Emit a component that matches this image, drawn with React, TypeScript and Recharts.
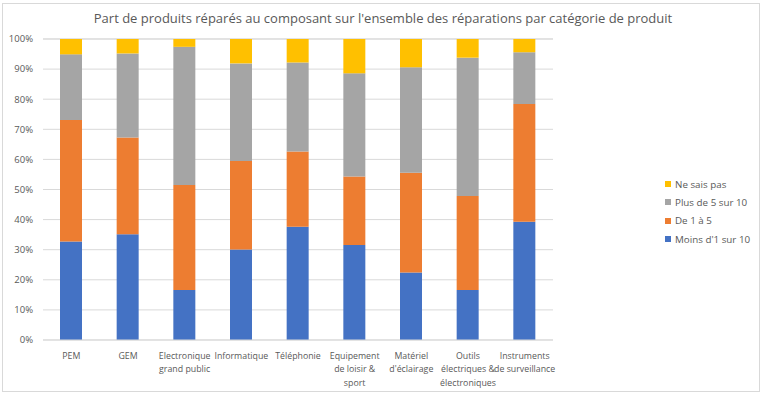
import React from "react";
import { BarChart, Bar, XAxis, YAxis, CartesianGrid, Legend } from "recharts";

const categories = [
  "PEM",
  "GEM",
  "Electronique\ngrand public",
  "Informatique",
  "Téléphonie",
  "Equipement\nde loisir &\nsport",
  "Matériel\nd'éclairage",
  "Outils\nélectriques &\nélectroniques",
  "Instruments\nde surveillance",
];
const moins = [32.7, 35.1, 16.6, 30.1, 37.6, 31.6, 22.4, 16.6, 39.3];
const de1a5 = [40.4, 32.2, 34.9, 29.4, 25.0, 22.7, 33.2, 31.2, 39.1];
const plus5 = [21.8, 27.9, 45.9, 32.4, 29.6, 34.3, 35.0, 46.0, 17.2];
const nsp = [5.1, 4.8, 2.6, 8.1, 7.8, 11.4, 9.4, 6.2, 4.4];
const yTicks = [0, 10, 20, 30, 40, 50, 60, 70, 80, 90, 100];

const series = [
  { key: "moins", name: "Moins d'1 sur 10", color: "#4472C4" },
  { key: "de1a5", name: "De 1 à 5", color: "#ED7D31" },
  { key: "plus5", name: "Plus de 5 sur 10", color: "#A5A5A5" },
  { key: "nsp", name: "Ne sais pas", color: "#FFC000" },
];

const data = categories.map((c, i) => ({
  cat: c,
  moins: moins[i],
  de1a5: de1a5[i],
  plus5: plus5[i],
  nsp: nsp[i],
}));

const FONT = "'Open Sans', sans-serif";
const TEXT = "#595959";

const XTick = (props: any) => {
  const { x, y, payload } = props;
  const lines = String(payload.value).split("\n");
  return (
    <text x={x} y={y} textAnchor="middle" fill={TEXT} fontSize={8.8} fontFamily={FONT}>
      {lines.map((l: string, i: number) => (
        <tspan key={i} x={x} dy={i === 0 ? 11 : 13.3}>
          {l}
        </tspan>
      ))}
    </text>
  );
};

const LegendContent = () => (
  <div style={{ fontFamily: FONT, fontSize: 9.8, color: TEXT }}>
    {[...series].reverse().map((s) => (
      <div key={s.key} style={{ display: "flex", alignItems: "center", height: 18.3 }}>
        <span style={{ width: 6, height: 6, background: s.color, marginRight: 4, display: "inline-block" }} />
        <span>{s.name}</span>
      </div>
    ))}
  </div>
);

export default function App() {
  return (
    <div style={{ position: "absolute", left: 0, top: 0, width: 766, height: 398, background: "#fff" }}>
      <div
        style={{
          position: "absolute",
          left: 2,
          top: 3,
          width: 758,
          height: 389,
          border: "1px solid #d9d9d9",
          boxSizing: "border-box",
        }}
      />
      <div
        style={{
          position: "absolute",
          left: 0,
          top: 9,
          width: 766,
          textAlign: "center",
          fontFamily: FONT,
          fontSize: 13,
          color: TEXT,
        }}
      >
        Part de produits réparés au composant sur l'ensemble des réparations par catégorie de produit
      </div>
      <div style={{ position: "absolute", left: 0, top: 0 }}>
        <BarChart width={766} height={398} data={data} margin={{ top: 39, right: 113, bottom: 0, left: 0 }}>
          <CartesianGrid vertical={false} stroke="#d9d9d9" />
          <XAxis
            dataKey="cat"
            interval={0}
            height={58}
            tickLine={false}
            axisLine={{ stroke: "#d9d9d9" }}
            tick={<XTick />}
          />
          <YAxis
            domain={[0, 100]}
            ticks={yTicks}
            width={43}
            axisLine={false}
            tickLine={false}
            tickSize={0}
            tickMargin={10}
            tickFormatter={(v: number) => `${v}%`}
            tick={{ fill: TEXT, fontSize: 9.5, fontFamily: FONT }}
          />
          <Legend
            layout="vertical"
            align="right"
            verticalAlign="top"
            content={<LegendContent />}
            wrapperStyle={{ left: 665, top: 175, width: 100 }}
          />
          {series.map((s) => (
            <Bar key={s.key} dataKey={s.key} name={s.name} stackId="a" fill={s.color} barSize={22} isAnimationActive={false} />
          ))}
        </BarChart>
      </div>
    </div>
  );
}
